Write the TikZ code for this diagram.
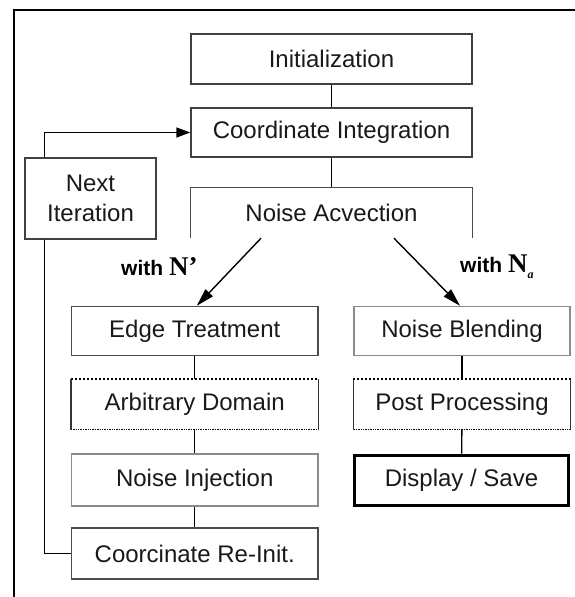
\documentclass[tikz,border=0pt]{standalone}
\usepackage{fontspec}
\setmainfont{Liberation Sans}
\newfontfamily\serifb{Liberation Serif}
\usetikzlibrary{arrows.meta,calc}
\begin{document}
\begin{tikzpicture}[x=1pt,y=-1pt,
  every node/.style={font=\fontsize{24}{30}\selectfont, text=black!90, inner sep=0pt},
  boxn/.style={draw=black!75, line width=1.4pt, minimum width=281pt, minimum height=50pt},
  boxl/.style={draw=black!70, line width=1.4pt, minimum width=246.5pt, minimum height=49pt},
  boxr/.style={draw=black!70, line width=1.4pt, minimum width=216pt, minimum height=49pt},
  lightbox/.style={draw=black!45},
  thickbox/.style={draw=black, line width=3pt},
  conn/.style={draw=black, line width=1.4pt},
  arr/.style={conn, -{Triangle[length=18pt,width=10pt]}},
  lbl/.style={font=\fontsize{21}{25}\selectfont\bfseries, text=black}
]
\useasboundingbox (0,0) rectangle (575,597);
\draw[conn, line width=1.6pt] (575,10) -- (14,10) -- (14,597);

\node[boxn] (init) at (331.5,59) {Initialization};
\node[boxn, minimum height=49pt] (coord) at (331.5,132.5) {Coordinate Integration};
\node[boxn, draw=none, minimum height=49pt] (adv) at (331.5,212.5) {Noise Acvection};
\draw[black!70, line width=1.4pt] (adv.south west) -- (adv.north west) -- (adv.north east) -- (adv.south east);
\node[draw=black!75, line width=1.4pt, minimum width=131pt, minimum height=81pt, align=center] (next) at (90.5,198.5) {Next\\Iteration};

\node[boxl] (edge) at (194.75,331) {Edge Treatment};
\node[boxr, lightbox] (blend) at (462,331) {Noise Blending};
\node[boxl, draw=none] (arb) at (194.75,404.5) {Arbitrary Domain};
\node[boxr, draw=none] (post) at (462,404.5) {Post Processing};
\foreach \n in {arb,post}{
  \draw[black, line width=2pt, dotted] (\n.north west) -- (\n.north east);
  \draw[black, line width=1.4pt, densely dotted] (\n.south west) -- (\n.south east);
  \draw[black!80, line width=1.4pt] (\n.north west) -- (\n.south west);
  \draw[black!80, line width=1.4pt] (\n.north east) -- (\n.south east);
}
\node[boxl, lightbox, minimum height=52pt] (inj) at (194.75,480) {Noise Injection};
\node[boxr, thickbox, minimum width=214pt, minimum height=50pt] (disp) at (461.5,480) {Display / Save};
\node[boxl, minimum height=51pt] (reinit) at (194.75,553.5) {Coorcinate Re-Init.};

\draw[conn] (init) -- (coord);
\draw[conn] (coord) -- (adv.north);
\draw[conn] (edge) -- (arb);
\draw[conn] (arb) -- (inj);
\draw[conn] (inj) -- (reinit);
\draw[conn] (blend) -- (post);
\draw[conn] (post) -- (disp);

\coordinate (al) at ($(adv.south)+(-70.5,0.5)$);
\coordinate (ar) at ($(adv.south)+(62.5,0.5)$);
\draw[arr] (al) -- ($(edge.north)+(2,0)$);
\draw[arr] (ar) -- ($(blend.north)+(-2,0)$);

\draw[arr, -{Triangle[length=14pt,width=10pt]}] ($(next.north west)+(20,0)$) |- (coord.west);
\draw[conn] ($(next.south west)+(20,0)$) |- (reinit.west);

\node[lbl, anchor=west] (lw) at (121,267) {with \serifb\fontsize{27}{27}\selectfont N’};
\node[lbl, anchor=west] (rw) at (460,267) {with \serifb\fontsize{27}{27}\selectfont N\raisebox{-6pt}{\fontsize{12}{12}\selectfont\itshape a}};
\end{tikzpicture}
\end{document}
